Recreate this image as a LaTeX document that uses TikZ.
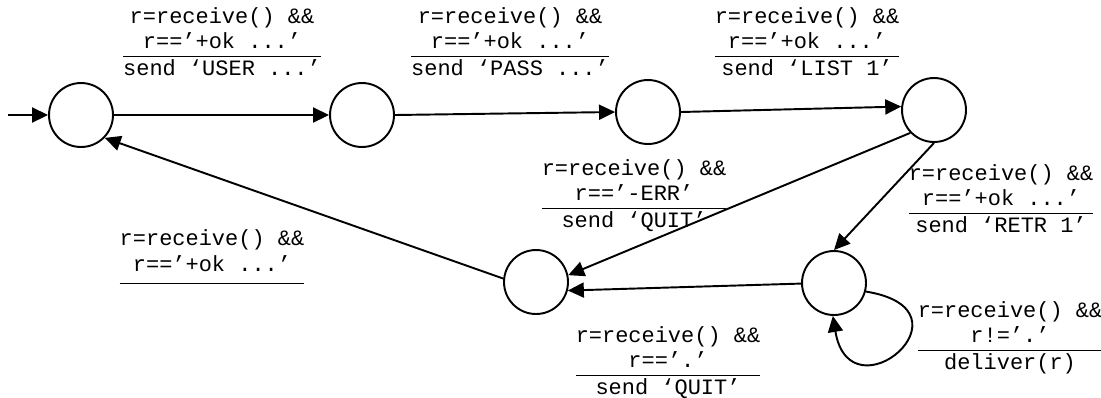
\documentclass[tikz,border=0pt]{standalone}
\usepackage{fontspec}
\setmonofont{Liberation Mono}
\usepackage{tikz}
\usetikzlibrary{arrows.meta}

\setlength{\arrayrulewidth}{0.8pt}
% guard over action
\newcommand{\trans}[3]{\begin{tabular}{@{}c@{}}#1\\#2\\\hline#3\end{tabular}}

\begin{document}
\begin{tikzpicture}[x=0.02cm,y=-0.02cm,
    state/.style={draw,circle,line width=1.1pt,minimum size=1.28cm,inner sep=0pt},
    lbl/.style={font=\ttfamily\fontsize{12.5}{14.4}\selectfont,inner sep=0pt},
    arr/.style={-{Triangle[length=0.32cm,width=0.3cm]},line width=1.1pt}]
    \useasboundingbox (0,0) rectangle (1101,397);

    % states
    \node[state] (s0) at (81,115) {};
    \node[state] (s1) at (362,115) {};
    \node[state] (s2) at (648,112) {};
    \node[state] (s3) at (934,110) {};
    \node[state] (s4) at (834,283) {};
    \node[state] (s5) at (536,282) {};
    \coordinate (start) at (8,115);

    % transitions
    \draw[arr] (start) -- (s0.west);
    \draw[arr] (s0.east) -- (s1.west);
    \draw[arr] (s1.east) -- (s2.west);
    \draw[arr] (s2.east) -- (s3.174);
    \draw[arr] (s3.south) -- (s4.north);
    \draw[arr] (s3.-136) -- (s5.12);
    \draw[arr] (s4.181) -- (s5.-15);
    \draw[arr] (s5.174) -- (s0.-44);
    \draw[arr] (s4.-15) .. controls (980,310) and (850,420) .. (s4.-92);

    % labels
    \node[lbl] (l01) at (222,44) {\trans{r=receive() \&\&}{r==’+ok ...’}{send ‘USER ...’}};
    \node[lbl] (l12) at (510,44) {\trans{r=receive() \&\&}{r==’+ok ...’}{send ‘PASS ...’}};
    \node[lbl] (l23) at (807,44) {\trans{r=receive() \&\&}{r==’+ok ...’}{send ‘LIST 1’}};
    \node[lbl] (l35) at (634,196) {\trans{r=receive() \&\&}{r==’-ERR’}{send ‘QUIT’}};
    \node[lbl] (l34) at (1001,201) {\trans{r=receive() \&\&}{r==’+ok ...’}{send ‘RETR 1’}};
    \node[lbl] (l44) at (1010,338) {\trans{r=receive() \&\&}{r!=’.’}{deliver(r)}};
    \node[lbl] (l54) at (668,363) {\trans{r=receive() \&\&}{r==’.’}{send ‘QUIT’}};
    \node[lbl] (l50) at (212,256) {\begin{tabular}{@{}c@{}}r=receive() \&\&\\r==’+ok ...’\\[0.08cm]\hline\end{tabular}};
\end{tikzpicture}
\end{document}
